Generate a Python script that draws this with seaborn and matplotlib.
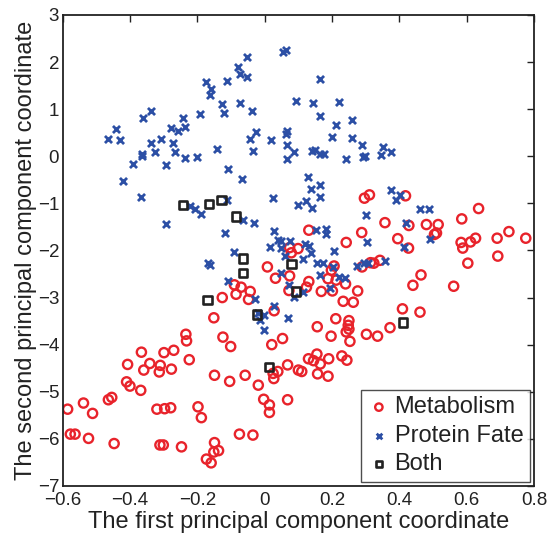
import matplotlib
matplotlib.use("Agg")
import matplotlib.pyplot as plt
import seaborn as sns
import numpy as np

# ---------------- data ----------------
met_x = [0.296, 0.311, 0.418, 0.635, 0.357, 0.428, 0.48, 0.515, 0.504, 0.51, 0.585, 0.288,
         0.242, 0.395, 0.427, 0.583, 0.588, 0.611, 0.626, 0.69, 0.725, 0.775, 0.692, 0.131,
         0.074, 0.099, 0.079,
         0.603, 0.289, 0.314, 0.324, 0.342, 0.464, 0.44, 0.561, 0.409, 0.461, 0.372, 0.335,
         0.302, 0.233, 0.263, 0.276, 0.25, 0.248, 0.25, 0.242, 0.253, 0.211, 0.197, 0.156,
         0.206, 0.198, 0.188, 0.212, 0.201, 0.168, 0.24, 0.131, 0.124,
         0.13, 0.145, 0.155, 0.165, 0.19, 0.229, 0.244, 0.11, 0.157, 0.188,
         -0.585, -0.538, -0.511, -0.577, -0.563, -0.523, -0.447, -0.464, -0.454, -0.41, -0.4,
         -0.407, -0.368, -0.366, -0.359, -0.341, -0.31, -0.313, -0.299, -0.27, -0.277, -0.234,
         -0.232, -0.224, -0.32, -0.297, -0.279, -0.311, -0.301, -0.247, -0.198, -0.188, -0.149,
         -0.151, -0.137, -0.173, -0.159, -0.075, -0.035, -0.149, -0.104, -0.058, -0.019,
         -0.003, 0.014, 0.014, 0.068, -0.151, -0.124, -0.101, -0.126, -0.09, -0.085, -0.07,
         -0.043, -0.048, 0.008, 0.032, 0.074, 0.072, 0.028, 0.053, 0.021, 0.068, 0.1, 0.025,
         0.027, 0.039]
met_y = [-0.89, -0.82, -0.84, -1.11, -1.41, -1.47, -1.45, -1.45, -1.66, -1.63, -1.33, -1.62,
         -1.83, -1.75, -1.95, -1.83, -1.95, -1.82, -1.74, -1.74, -1.60, -1.74, -2.12, -1.57,
         -1.94, -1.96, -2.05,
         -2.27, -2.35, -2.26, -2.27, -2.21, -2.52, -2.74, -2.76, -3.24, -3.31, -3.64, -3.82,
         -3.78, -3.08, -3.10, -2.86, -3.49, -3.59, -3.67, -3.73, -3.93, -3.45, -3.82, -3.62,
         -2.33, -2.42, -2.60, -2.63, -2.86, -2.87, -2.71, -2.66, -2.78,
         -4.30, -4.34, -4.20, -4.41, -4.30, -4.24, -4.33, -4.57, -4.62, -4.67,
         -5.37, -5.24, -5.46, -5.90, -5.90, -5.99, -6.10, -5.17, -5.12, -4.79, -4.88,
         -4.42, -4.97, -4.16, -4.54, -4.40, -4.44, -4.58, -4.17, -4.12, -4.52, -3.78,
         -3.92, -4.32, -5.37, -5.36, -5.34, -6.13, -6.13, -6.17, -5.32, -5.55, -6.08,
         -6.28, -6.25, -6.43, -6.51, -5.90, -5.92, -4.65, -4.78, -4.65, -4.86,
         -5.16, -5.28, -5.44, -5.17, -3.43, -3.84, -4.04, -3.00, -2.73, -2.93, -2.78,
         -2.87, -3.04, -2.35, -2.59, -2.54, -2.85, -3.28, -3.87, -4.00, -4.43, -4.54, -4.61,
         -4.72, -4.57]

pf_x = [-0.464, -0.44, -0.43, -0.422, -0.392, -0.365, -0.364, -0.367, -0.36, -0.339, -0.338,
        -0.326, -0.309, -0.293, -0.278, -0.273, -0.267, -0.256, -0.244, -0.236, -0.237, -0.201,
        -0.191, -0.175, -0.159, -0.162, -0.142, -0.127, -0.12, -0.111, -0.109, -0.078, -0.074,
        -0.074, -0.054, -0.052, -0.067, -0.039, -0.043, -0.035, -0.025, 0.019, 0.024, 0.055,
        0.063, 0.093, 0.065, 0.063, 0.067, 0.065, 0.087, -0.294, -0.223, -0.206, -0.19,
        -0.112, -0.117, -0.065, -0.031, 0.027, -0.092, 0.098,
        0.017, 0.039, 0.049, 0.074, 0.049, 0.059,
        0.163, 0.144, 0.22, 0.163, 0.212, 0.259, 0.2, 0.258, 0.288, 0.351, 0.376, 0.344,
        0.292, 0.298, 0.242, 0.14, 0.15, 0.165, 0.177, 0.129, 0.138, 0.164, 0.164, 0.124,
        0.139, 0.376, 0.389, 0.403, 0.462, 0.489, 0.301, 0.418, 0.151, 0.182, 0.183, 0.305,
        0.492, 0.414, 0.205, 0.12, 0.132, 0.136, 0.114,
        0.156, 0.173, 0.165, 0.203, 0.22, 0.237, 0.195, 0.274, 0.296, 0.307, 0.357, 0.115,
        0.086,
        -0.167, -0.161, -0.109, -0.028, -0.019, -0.003, -0.013, -0.001, 0.029, 0.068, 0.048,
        0.071]
pf_y = [0.37, 0.58, 0.34, -0.52, -0.17, 0.01, 0.05, -0.87, 0.82, 0.97, 0.28,
        0.10, 0.37, -0.19, 0.60, 0.29, 0.09, 0.53, 0.82, 0.63, -0.03, -0.02,
        0.90, 1.57, 1.43, 1.29, 0.16, 1.11, 0.91, 1.59, -0.27, 1.90, 1.74,
        1.12, 1.69, 2.10, -0.48, 0.96, 0.36, 0.12, 0.51, 0.35, -0.89, 2.22,
        2.25, 1.18, 0.54, 0.48, 0.24, -0.05, 0.09, -1.43, -1.06, -1.13, -1.23,
        -0.92, -1.64, -1.35, -1.41, -1.58, -2.03, -1.03,
        -1.92, -1.78, -1.80, -1.80, -1.94, -2.12,
        1.65, 1.14, 1.15, 0.85, 0.66, 0.76, 0.41, 0.39, 0.23, 0.20, 0.10, 0.02,
        -0.01, 0.0, -0.05, 0.11, 0.14, 0.05, 0.04, -0.43, -0.69, -0.60, -0.86, -0.94,
        -1.09, -0.72, -0.92, -0.82, -1.12, -1.12, -1.24, -1.42, -1.57, -1.54, -1.66, -1.83,
        -1.76, -1.93, -2.02, -1.87, -1.90, -2.05, -2.18,
        -2.27, -2.27, -2.53, -2.35, -2.57, -2.58, -2.79, -2.32, -2.27, -2.27, -2.23, -2.88,
        -2.99,
        -2.27, -2.30, -2.65, -3.04, -3.33, -3.36, -3.48, -3.68, -3.17, -3.43, -2.47,
        -2.73]

both_x = [-0.242, -0.165, -0.128, -0.085, -0.065, -0.065, -0.17, -0.023, 0.013, 0.08, 0.093, 0.411]
both_y = [-1.03, -1.01, -0.93, -1.28, -2.17, -2.48, -3.05, -3.36, -4.47, -2.29, -2.87, -3.53]

x_ticks = [-0.6, -0.4, -0.2, 0, 0.2, 0.4, 0.6, 0.8]
x_tick_labels = ["\u22120.6", "\u22120.4", "\u22120.2", "0", "0.2", "0.4", "0.6", "0.8"]
y_ticks = [-7, -6, -5, -4, -3, -2, -1, 0, 1, 2, 3]
y_tick_labels = ["\u22127", "\u22126", "\u22125", "\u22124", "\u22123", "\u22122", "\u22121", "0", "1", "2", "3"]

# ---------------- style ----------------
sns.set_theme(style="white")
plt.rcParams['font.family'] = ['Liberation Sans', 'DejaVu Sans']

RED = "#e8232b"
BLUE = "#2c4fa5"
BLACK = "#222222"

fig = plt.figure(figsize=(5.49, 5.34), dpi=100)
ax = fig.add_axes([0.114, 0.090, 0.859, 0.882])

sns.scatterplot(x=met_x, y=met_y, ax=ax, marker="o", s=44, color=RED,
                facecolor="none", edgecolor=RED, linewidth=1.7, label="Metabolism", zorder=2)
sns.scatterplot(x=pf_x, y=pf_y, ax=ax, marker="x", s=26, color=BLUE,
                linewidth=2.0, label="Protein Fate", zorder=3)
sns.scatterplot(x=both_x, y=both_y, ax=ax, marker="s", s=36, color=BLACK,
                facecolor="none", edgecolor=BLACK, linewidth=1.9, label="Both", zorder=4)

ax.set_xlim(-0.6, 0.8)
ax.set_ylim(-7, 3)
ax.set_xticks(x_ticks)
ax.set_xticklabels(x_tick_labels)
ax.set_yticks(y_ticks)
ax.set_yticklabels(y_tick_labels)
ax.tick_params(direction="in", length=5, width=1.0, top=True, right=True,
               labelsize=13.5, colors="#222222", pad=2.5)
ax.tick_params(axis="x", pad=4.5)
for sp in ax.spines.values():
    sp.set_visible(True)
    sp.set_color("#222222")
    sp.set_linewidth(1.3)

ax.set_xlabel("The first principal component coordinate", fontsize=17, color="#222222", labelpad=1)
ax.set_ylabel("The second principal component coordinate", fontsize=17, color="#222222", labelpad=0.5)

leg = ax.legend(loc="lower right", fontsize=17, frameon=True, fancybox=False,
                borderaxespad=0.18, handletextpad=0.2, labelspacing=0.27,
                borderpad=0.28, handlelength=0.93, markerscale=0.8)
leg.get_frame().set_edgecolor("#222222")
leg.get_frame().set_linewidth(1.0)
for t in leg.get_texts():
    t.set_color("#222222")

fig.savefig("out.png", dpi=100)
